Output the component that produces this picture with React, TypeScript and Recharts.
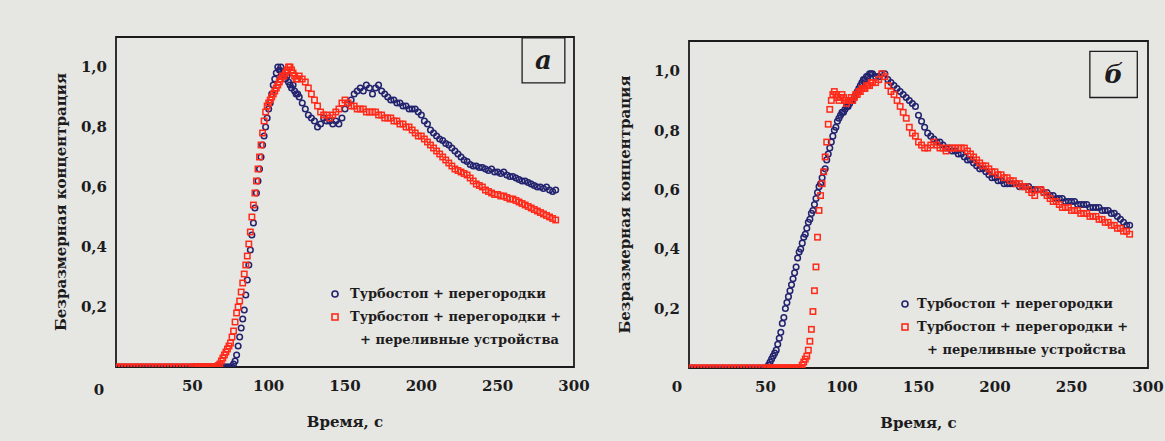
import React from 'react';
import { ScatterChart, Scatter, XAxis, YAxis, ReferenceArea, Legend } from 'recharts';

// time grid, seconds
const TIME = [
  0, 2, 4, 6, 8, 10, 12, 14, 16, 18, 20, 22, 24, 26, 28, 30, 32, 34, 36, 38, 40, 42, 44, 46, 48, 50,
  51, 52, 53, 54, 55, 56, 57, 58, 59, 60,
  61, 62, 63, 64, 65, 66, 67, 68, 69, 70,
  71, 72, 73, 74, 75, 76, 77, 78, 79, 80,
  81, 82, 83, 84, 85, 86, 87, 88, 89, 90,
  91, 92, 93, 94, 95, 96, 97, 98, 99, 100,
  101, 102, 103, 104, 105, 106, 107, 108, 109, 110,
  111, 112, 113, 114, 115, 116, 117, 118, 119, 120,
  122, 124, 126, 128, 130, 132, 134, 136, 138, 140,
  142, 144, 146, 148, 150, 152, 154, 156, 158, 160,
  162, 164, 166, 168, 170, 172, 174, 176, 178, 180,
  182, 184, 186, 188, 190, 192, 194, 196, 198, 200,
  202, 204, 206, 208, 210, 212, 214, 216, 218, 220,
  222, 224, 226, 228, 230, 232, 234, 236, 238, 240,
  242, 244, 246, 248, 250, 252, 254, 256, 258, 260,
  262, 264, 266, 268, 270, 272, 274, 276, 278, 280,
  282, 284, 286, 288,
];

// panel a: Турбостоп + перегородки
const BLUE_A = [
  0, 0, 0, 0, 0, 0, 0, 0, 0, 0, 0, 0, 0, 0, 0, 0, 0, 0, 0, 0, 0, 0, 0, 0, 0, 0,
  0, 0, 0, 0, 0, 0, 0, 0, 0, 0,
  0, 0, 0, 0, 0, 0, 0, 0, 0, 0,
  0, 0, 0, 0, 0, 0, 0.01, 0.02, 0.04, 0.07,
  0.10, 0.13, 0.16, 0.19, 0.24, 0.29, 0.34, 0.39, 0.44, 0.48,
  0.53, 0.58, 0.62, 0.66, 0.70, 0.74, 0.77, 0.80, 0.83, 0.86,
  0.88, 0.91, 0.94, 0.96, 0.98, 1.0, 0.99, 1.0, 0.98, 0.97,
  0.96, 0.97, 0.95, 0.94, 0.93, 0.94, 0.92, 0.91, 0.91, 0.90,
  0.88, 0.86, 0.84, 0.83, 0.82, 0.80, 0.81, 0.83, 0.82, 0.82,
  0.81, 0.82, 0.81, 0.83, 0.86, 0.88, 0.89, 0.91, 0.92, 0.93,
  0.92, 0.94, 0.93, 0.91, 0.93, 0.94, 0.92, 0.91, 0.90, 0.89,
  0.89, 0.88, 0.88, 0.87, 0.87, 0.86, 0.86, 0.86, 0.85, 0.84,
  0.82, 0.81, 0.79, 0.78, 0.77, 0.76, 0.755, 0.745, 0.74, 0.73,
  0.72, 0.71, 0.70, 0.69, 0.685, 0.675, 0.67, 0.67, 0.665, 0.665,
  0.66, 0.655, 0.66, 0.65, 0.65, 0.645, 0.65, 0.64, 0.635, 0.635,
  0.63, 0.625, 0.62, 0.62, 0.615, 0.61, 0.605, 0.60, 0.60, 0.595,
  0.60, 0.59, 0.585, 0.59,
];

// panel a: Турбостоп + перегородки + переливные устройства
const RED_A = [
  0, 0, 0, 0, 0, 0, 0, 0, 0, 0, 0, 0, 0, 0, 0, 0, 0, 0, 0, 0, 0, 0, 0, 0, 0, 0,
  0, 0, 0, 0, 0, 0, 0, 0, 0, 0,
  0, 0, 0, 0, 0, 0, 0.005, 0.01, 0.02, 0.03,
  0.04, 0.05, 0.06, 0.07, 0.08, 0.10, 0.12, 0.15, 0.18, 0.20,
  0.22, 0.25, 0.28, 0.31, 0.34, 0.37, 0.41, 0.45, 0.50, 0.54,
  0.58, 0.62, 0.66, 0.70, 0.74, 0.78, 0.82, 0.85, 0.87, 0.88,
  0.89, 0.90, 0.91, 0.92, 0.93, 0.94, 0.95, 0.96, 0.97, 0.97,
  0.98, 0.99, 1.0, 1.0, 0.99, 0.98, 0.97, 0.96, 0.96, 0.97,
  0.96, 0.95, 0.93, 0.91, 0.89, 0.87, 0.85, 0.84, 0.84, 0.83,
  0.84, 0.85, 0.86, 0.88, 0.89, 0.88, 0.87, 0.87, 0.86, 0.86,
  0.86, 0.85, 0.85, 0.85, 0.85, 0.84, 0.84, 0.83, 0.83, 0.83,
  0.82, 0.82, 0.81, 0.81, 0.80, 0.80, 0.79, 0.78, 0.77, 0.77,
  0.76, 0.75, 0.74, 0.73, 0.72, 0.71, 0.70, 0.69, 0.68, 0.67,
  0.66, 0.655, 0.65, 0.645, 0.64, 0.63, 0.62, 0.61, 0.605, 0.60,
  0.59, 0.585, 0.58, 0.575, 0.575, 0.57, 0.57, 0.565, 0.56, 0.56,
  0.555, 0.55, 0.545, 0.54, 0.535, 0.53, 0.525, 0.52, 0.515, 0.51,
  0.505, 0.50, 0.495, 0.49,
];

// panel б: Турбостоп + перегородки
const BLUE_B = [
  0, 0, 0, 0, 0, 0, 0, 0, 0, 0, 0, 0, 0, 0, 0, 0, 0, 0, 0, 0, 0, 0, 0, 0, 0, 0,
  0, 0.01, 0.02, 0.03, 0.04, 0.05, 0.06, 0.08, 0.10, 0.12,
  0.15, 0.17, 0.20, 0.22, 0.24, 0.26, 0.28, 0.30, 0.32, 0.34,
  0.37, 0.39, 0.40, 0.42, 0.44, 0.45, 0.47, 0.49, 0.50, 0.52,
  0.53, 0.55, 0.57, 0.59, 0.61, 0.62, 0.64, 0.66, 0.67, 0.70,
  0.72, 0.74, 0.76, 0.78, 0.80, 0.81, 0.83, 0.84, 0.85, 0.86,
  0.86, 0.87, 0.88, 0.88, 0.89, 0.90, 0.90, 0.91, 0.92, 0.93,
  0.94, 0.95, 0.96, 0.97, 0.97, 0.98, 0.98, 0.99, 0.99, 0.99,
  0.98, 0.98, 0.99, 0.99, 0.97, 0.96, 0.95, 0.94, 0.93, 0.92,
  0.91, 0.90, 0.89, 0.88, 0.85, 0.83, 0.81, 0.79, 0.78, 0.77,
  0.76, 0.76, 0.75, 0.74, 0.74, 0.73, 0.73, 0.72, 0.72, 0.71,
  0.70, 0.70, 0.69, 0.68, 0.67, 0.67, 0.66, 0.65, 0.64, 0.64,
  0.63, 0.63, 0.62, 0.62, 0.62, 0.62, 0.62, 0.61, 0.61, 0.61,
  0.61, 0.60, 0.60, 0.60, 0.60, 0.59, 0.59, 0.58, 0.58, 0.57,
  0.57, 0.57, 0.56, 0.56, 0.56, 0.56, 0.55, 0.55, 0.55, 0.55,
  0.54, 0.54, 0.54, 0.54, 0.53, 0.53, 0.53, 0.52, 0.52, 0.51,
  0.50, 0.49, 0.48, 0.48,
];

// panel б: Турбостоп + перегородки + переливные устройства
const RED_B = [
  0, 0, 0, 0, 0, 0, 0, 0, 0, 0, 0, 0, 0, 0, 0, 0, 0, 0, 0, 0, 0, 0, 0, 0, 0, 0,
  0, 0, 0, 0, 0, 0, 0, 0, 0, 0,
  0, 0, 0, 0, 0, 0, 0, 0, 0, 0,
  0, 0, 0, 0.01, 0.02, 0.03, 0.04, 0.06, 0.09, 0.13,
  0.19, 0.26, 0.34, 0.44, 0.53, 0.58, 0.62, 0.66, 0.71, 0.76,
  0.82, 0.87, 0.90, 0.92, 0.93, 0.92, 0.91, 0.90, 0.91, 0.92,
  0.91, 0.90, 0.89, 0.90, 0.90, 0.91, 0.90, 0.91, 0.92, 0.92,
  0.93, 0.93, 0.94, 0.94, 0.94, 0.95, 0.95, 0.95, 0.96, 0.96,
  0.96, 0.97, 0.99, 0.98, 0.95, 0.93, 0.92, 0.90, 0.88, 0.86,
  0.84, 0.81, 0.79, 0.78, 0.76, 0.75, 0.74, 0.74, 0.75, 0.76,
  0.75, 0.74, 0.74, 0.73, 0.74, 0.74, 0.74, 0.74, 0.74, 0.74,
  0.73, 0.72, 0.71, 0.70, 0.69, 0.68, 0.68, 0.67, 0.66, 0.66,
  0.65, 0.65, 0.64, 0.64, 0.63, 0.63, 0.62, 0.62, 0.61, 0.61,
  0.60, 0.59, 0.58, 0.60, 0.60, 0.59, 0.58, 0.57, 0.56, 0.56,
  0.55, 0.54, 0.54, 0.54, 0.53, 0.53, 0.53, 0.52, 0.52, 0.52,
  0.51, 0.51, 0.51, 0.50, 0.50, 0.49, 0.49, 0.48, 0.48, 0.47,
  0.47, 0.46, 0.46, 0.45,
];

const X_TICKS = [0, 50, 100, 150, 200, 250, 300];
const Y_TICKS = [0.2, 0.4, 0.6, 0.8, 1.0];
const LEGEND_LINES = ['Турбостоп + перегородки', 'Турбостоп + перегородки +', '+ переливные устройства'];
const Y_TITLE = 'Безразмерная концентрация';
const X_TITLE = 'Время, с';

const NAVY = '#22226e';
const RED = '#ff2a1a';
const INK = '#1c1c1c';
const BG = '#e6e6e3';
const FONT = 'DejaVu Serif';

const toPoints = (ys: number[]) => TIME.map((t, i) => ({ t, v: ys[i] }));

const CircleMark = (p: any) => (
  <circle cx={p.cx} cy={p.cy} r={2.8} fill="none" stroke={NAVY} strokeWidth={1.5} />
);
const SquareMark = (p: any) => (
  <rect x={p.cx - 2.7} y={p.cy - 2.7} width={5.4} height={5.4} fill="none" stroke={RED} strokeWidth={1.5} />
);

type PanelProps = {
  blue: number[];
  red: number[];
  left: number;
  width: number;
  margin: { top: number; right: number; left: number; bottom: number };
  xAxisHeight: number;
  zeroDx: number;
  zeroDy: number;
  tag: string;
  tagBox: [number, number, number, number];
  legendPos: { left: number; top: number };
  legendMarkW: number;
  legendIndent: number;
  yTitleDx: number;
};

const Panel = (pp: PanelProps) => {
  const XTick = (p: any) => {
    const isZero = p.payload.value === 0;
    return (
      <text
        x={p.x + (isZero ? pp.zeroDx : 0)}
        y={p.y + (isZero ? pp.zeroDy : 0)}
        dy="0.71em"
        textAnchor="middle"
        style={{ fontFamily: FONT, fontWeight: 'bold', fontSize: 15 }}
        fill={INK}
      >
        {p.payload.value}
      </text>
    );
  };
  const legendContent = () => (
    <div style={{ fontFamily: FONT, fontWeight: 'bold', fontSize: 13, color: INK, lineHeight: '23px', whiteSpace: 'nowrap' }}>
      <div style={{ display: 'flex', alignItems: 'center' }}>
        <svg width={pp.legendMarkW} height={23}>
          <circle cx={7} cy={12} r={3} fill="none" stroke={NAVY} strokeWidth={1.6} />
        </svg>
        <span>{LEGEND_LINES[0]}</span>
      </div>
      <div style={{ display: 'flex', alignItems: 'center' }}>
        <svg width={pp.legendMarkW} height={23}>
          <rect x={4} y={9} width={6} height={6} fill="none" stroke={RED} strokeWidth={1.6} />
        </svg>
        <span>{LEGEND_LINES[1]}</span>
      </div>
      <div style={{ paddingLeft: pp.legendIndent }}>{LEGEND_LINES[2]}</div>
    </div>
  );
  return (
    <div style={{ position: 'absolute', left: pp.left, top: 0 }}>
      <ScatterChart width={pp.width} height={441} margin={pp.margin}>
        <XAxis
          dataKey="t"
          type="number"
          domain={[0, 300]}
          ticks={X_TICKS}
          allowDataOverflow
          height={pp.xAxisHeight}
          axisLine={false}
          tickLine={false}
          tickSize={6}
          tickMargin={7}
          tick={<XTick />}
          label={{
            content: (lp: any) => {
              const vb = lp.viewBox;
              return (
                <text x={vb.x + vb.width / 2} y={vb.y + 60} textAnchor="middle" style={{ fontFamily: FONT, fontWeight: 'bold', fontSize: 15 }} fill={INK}>
                  {X_TITLE}
                </text>
              );
            },
          }}
        />
        <YAxis
          dataKey="v"
          type="number"
          domain={[0, 1.1]}
          ticks={Y_TICKS}
          allowDataOverflow
          width={50}
          axisLine={false}
          tickLine={false}
          tickSize={4}
          tickMargin={5}
          tickFormatter={(v: number) => v.toFixed(1).replace('.', ',')}
          tick={{ style: { fontFamily: FONT, fontWeight: 'bold', fontSize: 15 }, fill: INK }}
          label={{
            content: (lp: any) => {
              const vb = lp.viewBox;
              const cx = vb.x + pp.yTitleDx;
              const cy = vb.y + vb.height / 2;
              return (
                <text x={cx} y={cy} transform={`rotate(-90, ${cx}, ${cy})`} textAnchor="middle" dominantBaseline="central" style={{ fontFamily: FONT, fontWeight: 'bold', fontSize: 15 }} fill={INK}>
                  {Y_TITLE}
                </text>
              );
            },
          }}
        />
        <ReferenceArea x1={0} x2={300} y1={0} y2={1.1} fill="none" stroke={INK} strokeWidth={1.8} fillOpacity={0} />
        <ReferenceArea
          x1={pp.tagBox[0]}
          x2={pp.tagBox[1]}
          y1={pp.tagBox[2]}
          y2={pp.tagBox[3]}
          fill="none"
          fillOpacity={0}
          stroke={INK}
          strokeWidth={1.3}
          label={{
            content: (lp: any) => {
              const vb = lp.viewBox;
              return (
                <text x={vb.x + vb.width / 2} y={vb.y + vb.height / 2} textAnchor="middle" dominantBaseline="central" style={{ fontFamily: FONT, fontWeight: 'bold', fontStyle: 'italic', fontSize: 26 }} fill={INK}>
                  {pp.tag}
                </text>
              );
            },
          }}
        />
        <Scatter name={LEGEND_LINES[0]} data={toPoints(pp.blue)} shape={CircleMark} isAnimationActive={false} />
        <Scatter name={LEGEND_LINES[1]} data={toPoints(pp.red)} shape={SquareMark} isAnimationActive={false} />
        <Legend
          layout="vertical"
          align="center"
          verticalAlign="middle"
          content={legendContent}
          wrapperStyle={{ left: pp.legendPos.left, top: pp.legendPos.top, width: 'auto' }}
        />
      </ScatterChart>
    </div>
  );
};

export default function App() {
  return (
    <div style={{ position: 'absolute', left: 0, top: 0, width: 1165, height: 441, background: BG, overflow: 'hidden' }}>
      <Panel
        blue={BLUE_A}
        red={RED_A}
        left={0}
        width={590}
        margin={{ top: 37, right: 16, left: 66, bottom: 0 }}
        xAxisHeight={74}
        zeroDx={-17}
        zeroDy={4}
        tag="a"
        tagBox={[266, 294, 0.947, 1.097]}
        legendPos={{ left: 328, top: 282 }}
        legendMarkW={22}
        legendIndent={32}
        yTitleDx={-5}
      />
      <Panel
        blue={BLUE_B}
        red={RED_B}
        left={590}
        width={575}
        margin={{ top: 41, right: 17, left: 49, bottom: 0 }}
        xAxisHeight={73}
        zeroDx={-12}
        zeroDy={0}
        tag="б"
        tagBox={[262, 293, 0.91, 1.065]}
        legendPos={{ left: 308, top: 292 }}
        legendMarkW={19}
        legendIndent={29}
        yTitleDx={-14}
      />
    </div>
  );
}
